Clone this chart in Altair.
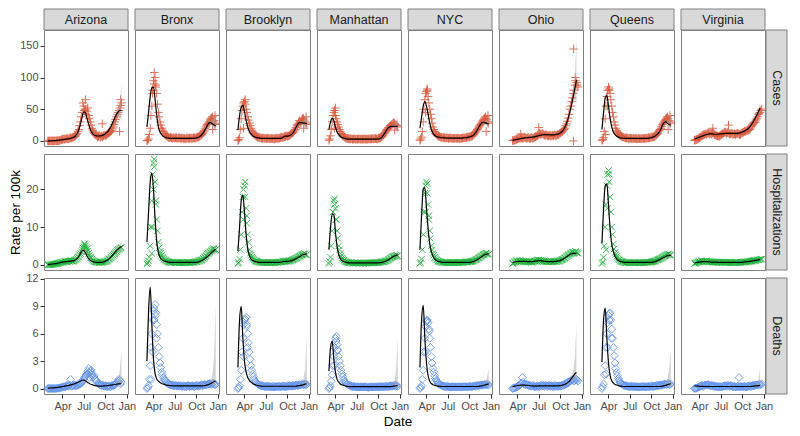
import altair as alt
import pandas as pd

LOCATIONS = ["Arizona", "Bronx", "Brooklyn", "Manhattan", "NYC", "Ohio", "Queens", "Virginia"]
METRICS = ["Cases", "Hospitalizations", "Deaths"]
WEEK0 = "2020-01-29"
FIRST_WEEK = {"Arizona": 0, "Bronx": 5, "Brooklyn": 5, "Manhattan": 5, "NYC": 5,
              "Ohio": 6, "Queens": 5, "Virginia": 6}

X_TICK_DATES = ["2020-04-01", "2020-07-01", "2020-10-01", "2021-01-01"]
X_RANGE = ["2020-01-13", "2021-01-06"]
Y_TICKS = {"Cases": [0, 50, 100, 150], "Hospitalizations": [0, 10, 20], "Deaths": [0, 3, 6, 9, 12]}
Y_RANGE = {"Cases": [-8, 175], "Hospitalizations": [-1.4, 29.4], "Deaths": [-0.6, 12.1]}

# ---------------- observed values, start of each week ----------------
CASES_PTS = {
    "Arizona": [0, 0, 0, 0, 0, 0.2, 0.3, 0.5, 1.5, 2.5, 3, 3.2, 3.5, 3.6, 5, 5.2, 5.8, 8, 12, 18, 30,
                45, 55, 50, 47, 40, 30, 20, 14, 10, 8, 7, 5.5, 8, 8, 9, 10, 12, 14, 16, 22, 30,
                38, 45, 52, 60],
    "Bronx": [0.5, 3, 20, 55, 95, 100, 75, 45, 30, 20, 15, 10, 8, 6, 5, 5, 5, 4, 5, 4, 5,
              4, 4, 4, 4, 4, 4, 4, 4, 5, 5, 6, 7, 9, 12, 16, 22, 26, 30, 35, 38, 32, 28],
    "Brooklyn": [0.5, 5, 35, 55, 62, 50, 38, 28, 20, 14, 10, 8, 6, 5, 5, 4, 4, 4, 4, 4, 3.5,
                 3.5, 3.5, 4, 4, 4, 5, 5, 6, 7, 8, 8, 10, 12, 14, 18, 24, 28, 30, 33, 36, 30, 26],
    "Manhattan": [1, 8, 30, 45, 40, 30, 22, 15, 10, 7, 5, 4, 3.5, 3, 3, 3, 2.5, 3, 3, 2.5, 3,
                  3, 2.5, 3, 3, 3, 3, 3.5, 3.5, 3.5, 4, 4, 6, 9, 12, 16, 20, 22, 25, 27, 28, 25, 22],
    "NYC": [1, 6, 30, 65, 78, 70, 50, 35, 22, 15, 10, 8, 7, 6, 5, 5, 4.5, 4.5, 4.5, 4, 4,
            4, 4, 4, 4, 4, 4.5, 5, 5, 6, 6, 7, 8, 10, 14, 18, 22, 26, 30, 34, 38, 33, 28],
    "Ohio": [0.5, 1, 2, 3, 4, 4, 5, 5, 5, 4.5, 5, 4, 4.5, 5, 6.5, 8, 10, 11, 11, 10, 9,
             9, 8, 8, 8.5, 8, 9, 9, 10, 12, 14, 17, 20, 27, 36, 50, 62, 75, 88, 92, 85],
    "Queens": [1, 5, 35, 70, 85, 75, 55, 38, 25, 16, 12, 9, 7, 6, 5, 4.5, 4, 4, 4, 4, 3.5,
               3.5, 3.5, 3.5, 3.5, 4, 4, 4, 4.5, 5, 5.5, 6, 7, 9, 12, 16, 20, 26, 30, 34, 38, 32, 28],
    "Virginia": [1, 2, 3, 5, 7, 9, 10, 11, 12, 11, 12, 13, 10, 9, 8, 7, 9, 11, 13, 14, 13,
                 12, 11, 12, 11, 10, 12, 11, 10, 13, 14, 15, 16, 17, 19, 24, 28, 30, 35, 42, 45, 50],
}
HOSP_PTS = {
    "Arizona": [0, 0, 0, 0.1, 0.2, 0.2, 0.3, 0.5, 0.6, 0.7, 0.8, 0.9, 0.8, 1.0, 1.0, 0.9, 1.1, 1.3, 1.7, 2.2, 3.0,
                4.0, 4.8, 5.0, 4.2, 3.0, 2.0, 1.5, 1.0, 0.8, 0.7, 0.6, 0.6, 0.6, 0.7, 0.8, 1.0, 1.3, 1.6, 2.0, 2.5, 3.0,
                3.5, 4.0, 4.3, 4.6],
    "Bronx": [0.2, 1, 5, 17, 27, 22, 12, 6, 3.5, 2.5, 1.8, 1.3, 1.0, 0.8, 0.7, 0.6, 0.6, 0.5, 0.6, 0.7, 0.5,
              0.6, 0.5, 0.6, 0.5, 0.6, 0.5, 0.6, 0.6, 0.7, 0.8, 0.9, 1.0, 1.2, 1.5, 1.9, 2.3, 2.8, 3.2, 3.6, 4.0, 4.2, 4.0],
    "Brooklyn": [0.3, 1.5, 8, 18, 21, 15, 8, 4, 2.5, 1.8, 1.3, 1.0, 0.8, 0.7, 0.6, 0.6, 0.5, 0.6, 0.5, 0.6, 0.5,
                 0.6, 0.5, 0.6, 0.6, 0.7, 0.7, 0.8, 0.9, 0.9, 0.9, 1.0, 1.0, 1.2, 1.4, 1.6, 1.8, 2.1, 2.3, 2.6, 2.8, 2.9, 2.7],
    "Manhattan": [0.3, 2, 9, 17, 15, 9, 5, 3, 1.8, 1.2, 0.9, 0.7, 0.6, 0.5, 0.5, 0.4, 0.5, 0.4, 0.5, 0.4, 0.5,
                  0.4, 0.5, 0.4, 0.5, 0.5, 0.4, 0.5, 0.5, 0.6, 0.5, 0.6, 0.7, 0.7, 0.9, 1.0, 1.2, 1.5, 1.8, 2.1, 2.3, 2.5, 2.4],
    "NYC": [0.3, 1.5, 8, 19, 22, 16, 9, 5, 3, 2, 1.4, 1.0, 0.8, 0.7, 0.6, 0.6, 0.5, 0.6, 0.5, 0.6, 0.6,
            0.5, 0.6, 0.5, 0.6, 0.6, 0.6, 0.7, 0.7, 0.7, 0.8, 0.8, 0.9, 1.1, 1.3, 1.5, 1.8, 2.1, 2.4, 2.7, 2.9, 3.0, 2.8],
    "Ohio": [0.3, 0.6, 0.9, 1.0, 1.0, 0.9, 1.0, 0.9, 0.8, 0.8, 0.7, 0.8, 0.7, 0.9, 1.0, 1.1, 1.2, 1.1, 1.0, 0.9, 0.9,
             0.8, 0.8, 0.8, 0.8, 0.8, 0.9, 0.9, 1.0, 1.1, 1.3, 1.5, 1.8, 2.2, 2.5, 2.8, 3.1, 3.3, 3.2, 3.4, 3.0],
    "Queens": [0.3, 2, 10, 21, 25, 18, 10, 5.5, 3.2, 2.2, 1.5, 1.1, 0.9, 0.7, 0.6, 0.6, 0.5, 0.6, 0.5, 0.5, 0.6,
               0.5, 0.5, 0.6, 0.5, 0.5, 0.6, 0.6, 0.6, 0.7, 0.7, 0.8, 0.9, 1.1, 1.3, 1.5, 1.7, 2.0, 2.2, 2.5, 2.7, 2.8, 2.6],
    "Virginia": [0.3, 0.5, 0.7, 0.8, 0.9, 0.9, 1.0, 0.9, 0.8, 0.9, 0.7, 0.8, 0.7, 0.6, 0.7, 0.6, 0.7, 0.6, 0.7, 0.6, 0.7,
                 0.6, 0.6, 0.5, 0.6, 0.6, 0.5, 0.6, 0.6, 0.7, 0.7, 0.8, 0.8, 0.9, 0.9, 1.0, 1.1, 1.1, 1.2, 1.3, 1.4, 1.5],
}
DEATH_PTS = {
    "Arizona": [0, 0, 0, 0, 0, 0, 0.02, 0.05, 0.1, 0.15, 0.2, 0.25, 0.3, 0.3, 1.0, 0.3, 0.3, 0.3, 0.35, 0.4, 0.5,
                0.7, 1.0, 1.3, 1.6, 2.2, 1.9, 1.5, 1.3, 1.0, 0.8, 0.5, 0.4, 0.3, 0.3, 0.3, 0.2, 0.2, 0.2, 0.3, 0.3, 0.4,
                0.6, 0.8, 0.9, 0.7],
    "Bronx": [0, 0.3, 2.5, 6, 8.5, 9.2, 7, 4.5, 2.8, 1.8, 1.2, 0.9, 0.7, 0.5, 0.45, 0.4, 0.35, 0.3, 0.3, 0.3, 0.25,
              0.3, 0.25, 0.2, 0.25, 0.3, 0.2, 0.25, 0.3, 0.2, 0.25, 0.3, 0.3, 0.35, 0.3, 0.4, 0.4, 0.45, 0.5, 0.5, 0.55, 0.5, 0.45],
    "Brooklyn": [0, 0.3, 2, 5.5, 7.5, 7.8, 6, 4, 2.5, 1.6, 1.0, 0.7, 0.5, 0.4, 0.3, 0.3, 0.25, 0.2, 0.25, 0.2, 0.2,
                 0.2, 0.15, 0.2, 0.25, 0.2, 0.2, 0.2, 0.25, 0.2, 0.2, 0.25, 0.3, 0.25, 0.3, 0.3, 0.35, 0.35, 0.4, 0.45, 0.4, 0.5, 0.45],
    "Manhattan": [0, 0.3, 1.5, 3.5, 5.5, 4.8, 3.5, 2.5, 1.6, 1.0, 0.7, 0.5, 0.4, 0.3, 0.25, 0.2, 0.2, 0.15, 0.2, 0.15, 0.2,
                  0.15, 0.2, 0.15, 0.1, 0.15, 0.2, 0.15, 0.2, 0.15, 0.2, 0.2, 0.15, 0.2, 0.2, 0.25, 0.2, 0.25, 0.3, 0.25, 0.3, 0.3, 0.25],
    "NYC": [0, 0.3, 2, 5.5, 7.3, 7.2, 5.5, 3.5, 2.2, 1.4, 0.9, 0.6, 0.45, 0.35, 0.3, 0.25, 0.2, 0.2, 0.2, 0.15, 0.2,
            0.15, 0.2, 0.15, 0.2, 0.15, 0.2, 0.2, 0.2, 0.15, 0.2, 0.2, 0.2, 0.25, 0.25, 0.3, 0.3, 0.35, 0.35, 0.4, 0.4, 0.45, 0.4],
    "Ohio": [0, 0.05, 0.1, 0.2, 0.3, 0.5, 1.2, 0.5, 0.4, 0.4, 0.3, 0.3, 0.3, 0.25, 0.2, 0.2, 0.25, 0.3, 0.3, 0.35, 0.3,
             0.3, 0.3, 0.25, 0.3, 0.25, 0.2, 0.3, 0.25, 0.3, 0.3, 0.35, 0.4, 0.5, 0.6, 0.8, 0.9, 1.0, 0.9, 1.0, 0.8],
    "Queens": [0, 0.5, 2.5, 6, 8, 8.3, 6.5, 4.5, 2.8, 1.8, 1.1, 0.7, 0.5, 0.4, 0.3, 0.3, 0.25, 0.2, 0.25, 0.2, 0.2,
               0.2, 0.2, 0.15, 0.2, 0.2, 0.15, 0.2, 0.2, 0.2, 0.25, 0.2, 0.25, 0.25, 0.3, 0.3, 0.35, 0.4, 0.4, 0.45, 0.5, 0.45, 0.5],
    "Virginia": [0, 0.05, 0.1, 0.2, 0.3, 0.3, 0.35, 0.4, 0.4, 0.35, 0.3, 0.3, 0.25, 0.2, 0.2, 0.15, 0.2, 0.2, 0.25, 0.3, 0.3,
                 0.3, 0.3, 0.25, 0.2, 0.2, 0.2, 0.2, 0.2, 0.2, 0.2, 0.2, 0.2, 0.25, 0.25, 0.3, 0.3, 0.35, 0.4, 0.4, 0.45, 0.5],
}

# ---------------- observed values, middle of each week ----------------
CASES_MID = {
    "Arizona": [0, 0, 0, 0, 0.1, 0.3, 0.4, 1, 2, 3, 2.5, 4, 3, 4.5, 4.5, 6, 7, 10, 15, 24, 38,
                60, 48, 42, 52, 35, 25, 17, 12, 9, 6, 9, 7, 6, 9, 8, 11, 13, 15, 19, 26, 34, 42, 48, 56],
    "Bronx": [1, 10, 40, 80, 90, 88, 58, 38, 25, 17, 12, 9, 7, 5, 6, 4, 5, 5, 4, 5, 4,
              5, 4, 3, 5, 4, 5, 4, 5, 4, 6, 6, 8, 10, 14, 19, 25, 28, 33, 36, 30, 26],
    "Brooklyn": [2, 18, 48, 60, 58, 45, 33, 24, 17, 12, 9, 7, 6, 5, 4, 5, 4, 3.5, 4.5, 3.5, 4,
                 4, 3, 4.5, 4, 4.5, 6, 5.5, 7, 8, 7, 9, 11, 13, 16, 21, 26, 32, 28, 35, 33, 28],
    "Manhattan": [3, 18, 40, 48, 35, 26, 18, 12, 8, 6, 4.5, 4, 3, 3.5, 2.5, 3.5, 3, 2.5, 3.5, 3, 2.5,
                  3.5, 3, 2.5, 3.5, 3, 4, 3, 4, 3, 4.5, 5, 7, 11, 14, 18, 21, 24, 26, 29, 26, 24],
    "NYC": [3, 15, 50, 75, 80, 60, 42, 28, 18, 12, 9, 7, 6, 5.5, 5.5, 4.5, 5, 4, 5, 4.5, 4,
            4.5, 4, 4.5, 4, 4.5, 5, 4.5, 5.5, 6.5, 6.5, 7.5, 9, 12, 16, 20, 24, 28, 32, 36, 35, 30],
    "Ohio": [0.8, 1.5, 2.5, 3.5, 5, 4.5, 4, 6, 4, 5.5, 3.5, 5.5, 4, 6, 7, 9, 12, 10, 12, 9, 10,
             8, 9, 7.5, 9, 9.5, 8, 10, 11, 13, 15, 18, 24, 31, 42, 55, 68, 80, 95, 88],
    "Queens": [2, 15, 55, 80, 82, 65, 45, 30, 20, 14, 10, 8, 6.5, 5.5, 4.5, 5, 3.5, 4.5, 3.5, 4, 4,
               3, 4, 3.5, 4, 3.5, 4.5, 4.5, 5, 5, 6.5, 6.5, 8, 10, 14, 18, 23, 28, 32, 36, 35, 30],
    "Virginia": [1.5, 2.5, 4, 6, 8, 9.5, 11, 10, 13, 12, 11, 12, 9.5, 8, 7.5, 8, 10, 12, 14, 12, 13,
                 11, 12, 10, 11, 11, 12, 10, 12, 13, 15, 16, 17, 18, 22, 26, 29, 33, 38, 44, 48],
}
HOSP_MID = {
    "Arizona": [0, 0, 0.1, 0.1, 0.2, 0.3, 0.4, 0.5, 0.7, 0.6, 0.9, 0.8, 1.0, 0.9, 1.1, 1.0, 1.2, 1.5, 2.0, 2.6, 3.5,
                4.5, 5.3, 4.6, 3.6, 2.5, 1.8, 1.2, 0.9, 0.7, 0.7, 0.5, 0.7, 0.6, 0.8, 0.9, 1.1, 1.5, 1.8, 2.3, 2.8, 3.2,
                3.8, 4.1, 4.5],
    "Bronx": [0.5, 2, 10, 24, 26, 17, 9, 4.5, 3, 2, 1.5, 1.1, 0.9, 0.7, 0.5, 0.7, 0.6, 0.5, 0.6, 0.5, 0.7,
              0.5, 0.6, 0.5, 0.7, 0.6, 0.5, 0.7, 0.6, 0.8, 0.8, 1.0, 1.1, 1.3, 1.7, 2.1, 2.5, 3.0, 3.4, 3.8, 4.3, 3.8],
    "Brooklyn": [0.6, 4, 14, 20, 18, 11, 6, 3, 2, 1.5, 1.1, 0.9, 0.7, 0.6, 0.5, 0.6, 0.6, 0.5, 0.6, 0.6, 0.5,
                 0.6, 0.5, 0.7, 0.6, 0.8, 0.7, 0.9, 0.8, 1.0, 0.9, 1.1, 1.1, 1.3, 1.5, 1.7, 2.0, 2.2, 2.5, 2.7, 3.0, 2.6],
    "Manhattan": [0.8, 5, 14, 16, 12, 7, 4, 2.3, 1.5, 1.0, 0.8, 0.6, 0.5, 0.6, 0.4, 0.5, 0.4, 0.5, 0.4, 0.5, 0.4,
                  0.5, 0.4, 0.5, 0.4, 0.5, 0.6, 0.5, 0.6, 0.5, 0.6, 0.7, 0.8, 0.8, 1.0, 1.1, 1.4, 1.7, 2.0, 2.2, 2.4, 2.2],
    "NYC": [0.6, 4, 14, 21, 19, 12, 7, 4, 2.5, 1.7, 1.2, 0.9, 0.8, 0.6, 0.5, 0.6, 0.6, 0.5, 0.6, 0.5, 0.6,
            0.6, 0.5, 0.6, 0.6, 0.7, 0.6, 0.7, 0.8, 0.7, 0.8, 0.9, 1.0, 1.2, 1.4, 1.7, 2.0, 2.3, 2.6, 2.8, 3.1, 2.7],
    "Ohio": [0.4, 0.8, 1.1, 0.8, 1.1, 0.8, 0.9, 0.7, 1.0, 0.7, 0.9, 0.6, 0.8, 1.0, 1.1, 1.3, 1.0, 1.2, 0.8, 1.0, 0.8,
             0.9, 0.7, 0.9, 0.7, 0.9, 0.8, 1.0, 0.9, 1.2, 1.4, 1.7, 2.0, 2.4, 2.7, 3.0, 3.3, 3.0, 3.5, 3.2],
    "Queens": [0.7, 5, 16, 24, 22, 14, 8, 4.2, 2.7, 1.8, 1.3, 1.0, 0.8, 0.6, 0.5, 0.6, 0.6, 0.5, 0.6, 0.5, 0.5,
               0.6, 0.5, 0.5, 0.6, 0.6, 0.5, 0.7, 0.7, 0.6, 0.8, 0.9, 1.0, 1.2, 1.4, 1.6, 1.8, 2.1, 2.4, 2.6, 2.9, 2.5],
    "Virginia": [0.4, 0.6, 0.8, 0.7, 1.0, 0.8, 0.9, 1.0, 0.7, 0.8, 0.8, 0.6, 0.8, 0.7, 0.6, 0.7, 0.5, 0.7, 0.5, 0.7, 0.6,
                 0.7, 0.5, 0.6, 0.5, 0.7, 0.6, 0.5, 0.7, 0.6, 0.8, 0.7, 0.9, 0.8, 1.0, 1.0, 1.2, 1.1, 1.3, 1.3, 1.5],
}
DEATH_MID = {
    "Arizona": [0, 0, 0, 0, 0, 0.02, 0.05, 0.08, 0.12, 0.2, 0.15, 0.3, 0.25, 0.4, 0.25, 0.35, 0.4, 0.3, 0.45, 0.5, 0.6,
                0.9, 1.2, 1.5, 1.9, 1.7, 1.6, 1.2, 1.4, 0.9, 0.6, 0.5, 0.35, 0.4, 0.25, 0.3, 0.25, 0.3, 0.2, 0.35, 0.4, 0.5,
                0.7, 1.0, 0.5],
    "Bronx": [0.1, 1, 4.5, 7.5, 8.8, 8, 6, 3.5, 2.3, 1.5, 1.0, 0.8, 0.6, 0.5, 0.4, 0.35, 0.3, 0.35, 0.25, 0.3, 0.3,
              0.2, 0.3, 0.25, 0.2, 0.35, 0.25, 0.3, 0.25, 0.3, 0.35, 0.25, 0.3, 0.4, 0.35, 0.45, 0.4, 0.5, 0.55, 0.45, 0.6, 0.4],
    "Brooklyn": [0.1, 1, 4, 7, 7.6, 7, 5, 3.2, 2, 1.3, 0.8, 0.6, 0.45, 0.35, 0.3, 0.25, 0.2, 0.25, 0.2, 0.25, 0.15,
                 0.25, 0.2, 0.2, 0.2, 0.25, 0.2, 0.3, 0.2, 0.25, 0.3, 0.3, 0.25, 0.35, 0.3, 0.4, 0.3, 0.45, 0.4, 0.5, 0.45, 0.4],
    "Manhattan": [0.1, 0.8, 2.5, 4.5, 5.2, 4.2, 3, 2, 1.3, 0.8, 0.6, 0.45, 0.35, 0.25, 0.2, 0.25, 0.15, 0.2, 0.15, 0.2, 0.15,
                  0.2, 0.15, 0.2, 0.15, 0.2, 0.15, 0.2, 0.15, 0.2, 0.15, 0.25, 0.2, 0.2, 0.25, 0.2, 0.25, 0.3, 0.25, 0.3, 0.35, 0.3],
    "NYC": [0.1, 1, 4, 6.8, 7.4, 6.5, 4.5, 2.8, 1.8, 1.1, 0.75, 0.5, 0.4, 0.3, 0.25, 0.2, 0.25, 0.2, 0.15, 0.2, 0.2,
            0.2, 0.15, 0.2, 0.2, 0.15, 0.2, 0.2, 0.2, 0.2, 0.25, 0.2, 0.25, 0.3, 0.3, 0.35, 0.35, 0.4, 0.4, 0.45, 0.45, 0.4],
    "Ohio": [0.02, 0.1, 0.15, 0.3, 0.4, 0.6, 0.7, 0.45, 0.5, 0.35, 0.35, 0.25, 0.35, 0.2, 0.25, 0.3, 0.2, 0.35, 0.3, 0.25, 0.35,
             0.25, 0.35, 0.3, 0.2, 0.35, 0.3, 0.25, 0.3, 0.25, 0.4, 0.45, 0.55, 0.7, 0.75, 0.85, 1.0, 0.8, 1.1, 0.9],
    "Queens": [0.2, 1.5, 4.5, 7.2, 8.2, 7.5, 5.5, 3.6, 2.2, 1.4, 0.9, 0.6, 0.45, 0.35, 0.3, 0.25, 0.2, 0.25, 0.2, 0.25, 0.2,
               0.2, 0.15, 0.2, 0.2, 0.25, 0.2, 0.2, 0.25, 0.2, 0.3, 0.25, 0.3, 0.35, 0.35, 0.4, 0.35, 0.45, 0.5, 0.4, 0.55, 0.45],
    "Virginia": [0.02, 0.08, 0.15, 0.25, 0.35, 0.25, 0.4, 0.35, 0.45, 0.3, 0.35, 0.25, 0.3, 0.2, 0.25, 0.2, 0.15, 0.25, 0.3, 0.25, 0.35,
                 0.25, 0.3, 0.2, 0.25, 0.15, 0.25, 0.2, 0.25, 0.2, 0.25, 0.15, 0.25, 0.3, 0.2, 0.35, 0.3, 0.4, 0.35, 0.45, 0.4],
}

# isolated observations (location, metric, date, value)
EXTRA_PTS = [
    ("Arizona", "Cases", "2020-07-08", 65), ("Arizona", "Cases", "2020-09-18", 27),
    ("Arizona", "Cases", "2020-12-01", 15), ("Arizona", "Cases", "2020-12-05", 65),
    ("Bronx", "Cases", "2020-04-04", 108), ("Bronx", "Cases", "2020-03-28", 75), ("Bronx", "Cases", "2020-04-11", 85),
    ("Bronx", "Cases", "2020-12-10", 18), ("Bronx", "Cases", "2020-12-20", 40),
    ("Brooklyn", "Cases", "2020-03-28", 20), ("Brooklyn", "Cases", "2020-04-04", 65),
    ("Brooklyn", "Cases", "2020-12-10", 20), ("Brooklyn", "Cases", "2020-12-20", 38),
    ("Manhattan", "Cases", "2020-04-01", 52), ("Manhattan", "Cases", "2020-03-28", 20), ("Manhattan", "Cases", "2020-12-10", 17),
    ("NYC", "Cases", "2020-04-04", 82), ("NYC", "Cases", "2020-03-28", 45),
    ("NYC", "Cases", "2020-12-12", 15), ("NYC", "Cases", "2020-12-20", 40),
    ("Ohio", "Cases", "2020-11-27", 145), ("Ohio", "Cases", "2020-11-26", 0), ("Ohio", "Cases", "2020-12-04", 100),
    ("Ohio", "Cases", "2020-07-01", 21), ("Ohio", "Cases", "2020-04-15", 11),
    ("Queens", "Cases", "2020-04-04", 80), ("Queens", "Cases", "2020-03-28", 55), ("Queens", "Cases", "2020-03-20", 10),
    ("Queens", "Cases", "2020-12-12", 18), ("Queens", "Cases", "2020-12-20", 40),
    ("Virginia", "Cases", "2020-05-28", 20), ("Virginia", "Cases", "2020-08-03", 25),
    ("Arizona", "Hospitalizations", "2020-07-05", 5.6), ("Arizona", "Hospitalizations", "2020-07-12", 3.5),
    ("Bronx", "Hospitalizations", "2020-03-28", 10), ("Bronx", "Hospitalizations", "2020-04-04", 28),
    ("Bronx", "Hospitalizations", "2020-04-01", 20), ("Bronx", "Hospitalizations", "2020-04-11", 16),
    ("Bronx", "Hospitalizations", "2020-03-25", 3),
    ("Brooklyn", "Hospitalizations", "2020-04-04", 22), ("Brooklyn", "Hospitalizations", "2020-03-28", 12),
    ("Brooklyn", "Hospitalizations", "2020-04-11", 13),
    ("Manhattan", "Hospitalizations", "2020-03-28", 17.5), ("Manhattan", "Hospitalizations", "2020-04-04", 12),
    ("NYC", "Hospitalizations", "2020-03-28", 14), ("NYC", "Hospitalizations", "2020-04-04", 21.5),
    ("NYC", "Hospitalizations", "2020-04-11", 13),
    ("Queens", "Hospitalizations", "2020-03-28", 15), ("Queens", "Hospitalizations", "2020-04-04", 24),
    ("Queens", "Hospitalizations", "2020-03-22", 4),
    ("Arizona", "Deaths", "2020-07-26", 1.2), ("Arizona", "Deaths", "2020-08-02", 2.0), ("Arizona", "Deaths", "2020-07-20", 1.6),
    ("Bronx", "Deaths", "2020-03-28", 4), ("Bronx", "Deaths", "2020-04-04", 7.5), ("Bronx", "Deaths", "2020-04-11", 8.3),
    ("Bronx", "Deaths", "2020-04-14", 5.5), ("Bronx", "Deaths", "2020-03-22", 1.0),
    ("Brooklyn", "Deaths", "2020-03-28", 3.5), ("Brooklyn", "Deaths", "2020-04-11", 6.8), ("Brooklyn", "Deaths", "2020-04-15", 4.5),
    ("Manhattan", "Deaths", "2020-04-04", 5.7), ("Manhattan", "Deaths", "2020-04-08", 4.2), ("Manhattan", "Deaths", "2020-03-28", 2.5),
    ("NYC", "Deaths", "2020-04-04", 7.5), ("NYC", "Deaths", "2020-03-28", 4), ("NYC", "Deaths", "2020-04-14", 6.3),
    ("Queens", "Deaths", "2020-03-22", 1.6), ("Queens", "Deaths", "2020-03-28", 4.5), ("Queens", "Deaths", "2020-04-04", 7.5),
    ("Queens", "Deaths", "2020-04-14", 5.5),
    ("Virginia", "Deaths", "2020-09-17", 1.2),
]

# ---------------- weekly model fit (black line) ----------------
CASES_FIT = {
    "Arizona": [0, 0, 0.2, 0.3, 0.5, 0.7, 1, 1.2, 1.5, 2, 2.3, 2.7, 3, 3.5, 4, 5, 6, 8, 12, 18, 27,
                38, 46, 45, 36, 26, 18, 13, 10, 8.5, 8, 7.8, 8, 8.5, 9.5, 11, 13, 16, 20, 25, 31, 37,
                42, 46, 48, 48],
    "Bronx": [22, 45, 70, 84, 85, 65, 40, 22, 14, 10, 7, 6, 5, 4.5, 4, 4, 4, 4, 4, 4, 4,
              4, 4, 4, 4, 4, 4, 4, 4, 4.2, 4.6, 5.5, 6.5, 8.5, 11.5, 15, 20, 25, 28.5, 29, 27, 25, 24],
    "Brooklyn": [17, 40, 53, 56, 46, 33, 22, 15, 11, 8, 6.5, 5.5, 5, 4.5, 4, 4, 4, 4, 4, 4, 4,
                 4, 4, 4, 4, 4, 4, 5, 6.5, 7.5, 7.5, 8, 9, 11, 14, 19, 24, 28, 29, 29, 28, 28, 27],
    "Manhattan": [18, 30, 36, 32, 22, 14, 10, 7, 5.5, 4.5, 4, 3, 3, 3, 3, 3, 3, 3, 3, 3, 3,
                  3, 3, 3, 3, 3, 3, 3, 3, 3, 3, 3.5, 5, 8, 12, 16, 20, 22, 23, 23, 23, 23, 23],
    "NYC": [20, 38, 55, 62, 55, 42, 28, 18, 12, 9, 7, 6, 5.5, 5, 5, 4.8, 4.6, 4.5, 4.5, 4.5, 4.5,
            4.5, 4.5, 4.5, 4.5, 4.5, 4.5, 5, 5, 5.5, 6, 7, 8, 10, 13, 17, 22, 26, 29, 29.5, 28.5, 27.5, 27],
    "Ohio": [1, 1.5, 2, 2.5, 3, 3.5, 4, 4.5, 5, 5, 5.5, 5.5, 6, 6.5, 7, 7.5, 8.5, 9, 9.5, 10, 10,
             10, 10, 9.5, 9.5, 9.5, 10, 10.5, 11, 12.5, 14.5, 17.5, 22, 28, 36, 46, 57, 69, 82, 96],
    "Queens": [18, 45, 68, 72, 55, 36, 22, 14, 10, 7.5, 6, 5, 4.5, 4, 4, 4, 4, 4, 4, 4, 4,
               4, 4, 4, 4, 4, 4, 4, 4, 4.5, 5, 6, 7, 9, 11, 14, 19, 25, 29, 30, 28, 26, 25],
    "Virginia": [3, 4, 5, 6, 7, 8, 9, 10, 10.5, 11, 11, 11, 10.5, 10.5, 10.5, 11, 11, 11.5, 11.5, 12, 12,
                 12, 12, 12, 12, 12, 12, 12.5, 13, 14, 15, 16.5, 18, 20, 23, 27, 31, 36, 41, 46, 52],
}
HOSP_FIT = {
    "Arizona": [0.1, 0.1, 0.15, 0.2, 0.25, 0.3, 0.4, 0.5, 0.6, 0.7, 0.75, 0.8, 0.85, 0.9, 0.95, 1.0, 1.1, 1.3, 1.6, 2.2, 3.0,
                3.7, 3.8, 3.2, 2.3, 1.6, 1.2, 0.9, 0.75, 0.65, 0.6, 0.6, 0.6, 0.65, 0.75, 0.9, 1.1, 1.4, 1.8, 2.3, 2.8, 3.3,
                3.8, 4.2, 4.6, 4.8],
    "Bronx": [6, 14, 22, 24.3, 20, 12, 6, 3.2, 2, 1.4, 1.1, 0.9, 0.8, 0.7, 0.6, 0.6, 0.6, 0.6, 0.6, 0.6, 0.6,
              0.6, 0.6, 0.6, 0.6, 0.6, 0.6, 0.6, 0.6, 0.6, 0.65, 0.7, 0.8, 1.0, 1.2, 1.5, 1.8, 2.2, 2.6, 3.0, 3.4, 3.8, 4.1],
    "Brooklyn": [3.6, 10, 17, 18.5, 14, 8, 4.2, 2.4, 1.5, 1.1, 0.9, 0.8, 0.7, 0.6, 0.6, 0.6, 0.6, 0.6, 0.6, 0.6, 0.6,
                 0.6, 0.6, 0.6, 0.6, 0.6, 0.65, 0.75, 0.85, 0.9, 0.9, 0.95, 1.0, 1.1, 1.3, 1.5, 1.7, 2.0, 2.2, 2.5, 2.7, 2.8, 2.9],
    "Manhattan": [4, 10, 13.5, 13.3, 8.5, 4.8, 2.6, 1.6, 1.1, 0.8, 0.7, 0.6, 0.5, 0.5, 0.5, 0.5, 0.5, 0.5, 0.5, 0.5, 0.5,
                  0.5, 0.5, 0.5, 0.5, 0.5, 0.5, 0.5, 0.5, 0.5, 0.5, 0.55, 0.6, 0.7, 0.85, 1.0, 1.2, 1.5, 1.8, 2.1, 2.3, 2.5, 2.6],
    "NYC": [4, 13, 20, 20.5, 15, 9.5, 5.5, 3.5, 2.2, 1.5, 1.1, 0.9, 0.8, 0.7, 0.6, 0.6, 0.6, 0.6, 0.6, 0.6, 0.6,
            0.6, 0.6, 0.6, 0.6, 0.6, 0.6, 0.6, 0.6, 0.6, 0.65, 0.7, 0.8, 0.9, 1.1, 1.3, 1.6, 1.9, 2.2, 2.5, 2.7, 2.8, 2.9],
    "Ohio": [0.6, 0.7, 0.8, 0.85, 0.9, 0.9, 0.9, 0.9, 0.9, 0.85, 0.85, 0.85, 0.85, 0.9, 0.95, 1.0, 1.05, 1.05, 1.0, 0.95, 0.9,
             0.85, 0.85, 0.85, 0.85, 0.85, 0.9, 0.95, 1.0, 1.1, 1.3, 1.5, 1.8, 2.1, 2.4, 2.7, 2.9, 3.0, 3.0, 3.0],
    "Queens": [5.7, 15, 21, 21.5, 16, 9.5, 5.5, 3.5, 2.2, 1.5, 1.1, 0.9, 0.8, 0.7, 0.6, 0.6, 0.6, 0.6, 0.6, 0.6, 0.6,
               0.6, 0.6, 0.6, 0.6, 0.6, 0.6, 0.6, 0.6, 0.6, 0.65, 0.7, 0.8, 0.9, 1.1, 1.3, 1.5, 1.8, 2.0, 2.2, 2.4, 2.5, 2.5],
    "Virginia": [0.5, 0.6, 0.65, 0.7, 0.75, 0.8, 0.8, 0.8, 0.8, 0.75, 0.7, 0.7, 0.7, 0.7, 0.65, 0.65, 0.65, 0.65, 0.65, 0.65, 0.6,
                 0.6, 0.6, 0.6, 0.6, 0.6, 0.6, 0.6, 0.65, 0.65, 0.7, 0.75, 0.8, 0.85, 0.9, 1.0, 1.05, 1.15, 1.2, 1.3, 1.4],
}
DEATH_FIT = {
    "Arizona": [0.05, 0.05, 0.06, 0.07, 0.08, 0.1, 0.12, 0.15, 0.18, 0.21, 0.24, 0.28, 0.31, 0.35, 0.4, 0.44, 0.5, 0.56, 0.63, 0.72, 0.82,
                0.9, 0.93, 0.85, 0.72, 0.6, 0.5, 0.42, 0.36, 0.32, 0.29, 0.27, 0.27, 0.27, 0.28, 0.29, 0.31, 0.33, 0.36, 0.38, 0.41, 0.44,
                0.47, 0.5, 0.52, 0.55],
    "Bronx": [3, 8.5, 11.1, 7, 3.2, 1.6, 1.05, 0.8, 0.65, 0.55, 0.48, 0.42, 0.38, 0.35, 0.33, 0.31, 0.3, 0.28, 0.28, 0.28, 0.28,
              0.28, 0.28, 0.28, 0.28, 0.28, 0.28, 0.28, 0.28, 0.28, 0.28, 0.28, 0.28, 0.28, 0.3, 0.32, 0.35, 0.4, 0.47, 0.55, 0.65, 0.75, 0.82],
    "Brooklyn": [2.3, 7.5, 9, 5.5, 3, 1.8, 1.2, 0.9, 0.7, 0.55, 0.45, 0.38, 0.33, 0.3, 0.27, 0.25, 0.25, 0.25, 0.25, 0.25, 0.25,
                 0.25, 0.25, 0.25, 0.25, 0.25, 0.25, 0.25, 0.25, 0.25, 0.25, 0.25, 0.25, 0.25, 0.25, 0.25, 0.27, 0.3, 0.33, 0.37, 0.42, 0.48, 0.52],
    "Manhattan": [1.9, 4.5, 5.2, 3.2, 1.8, 1.0, 0.7, 0.5, 0.4, 0.33, 0.28, 0.25, 0.22, 0.2, 0.2, 0.2, 0.2, 0.2, 0.2, 0.2, 0.2,
                  0.2, 0.2, 0.2, 0.2, 0.2, 0.2, 0.2, 0.2, 0.2, 0.2, 0.2, 0.2, 0.2, 0.2, 0.2, 0.2, 0.2, 0.22, 0.24, 0.27, 0.3, 0.33],
    "NYC": [2.3, 7.5, 9.1, 5.5, 2.8, 1.4, 0.8, 0.55, 0.42, 0.35, 0.3, 0.27, 0.25, 0.22, 0.22, 0.22, 0.22, 0.22, 0.22, 0.22, 0.22,
            0.22, 0.22, 0.22, 0.22, 0.22, 0.22, 0.22, 0.22, 0.22, 0.22, 0.22, 0.22, 0.22, 0.22, 0.22, 0.24, 0.27, 0.3, 0.35, 0.4, 0.46, 0.5],
    "Ohio": [0.2, 0.25, 0.3, 0.33, 0.35, 0.37, 0.38, 0.38, 0.37, 0.35, 0.33, 0.3, 0.28, 0.27, 0.27, 0.27, 0.28, 0.3, 0.3, 0.3, 0.3,
             0.3, 0.3, 0.29, 0.28, 0.28, 0.28, 0.29, 0.3, 0.32, 0.35, 0.4, 0.47, 0.56, 0.7, 0.88, 1.1, 1.35, 1.6, 1.75],
    "Queens": [2.9, 7.5, 8.8, 5.5, 2.8, 1.4, 0.85, 0.6, 0.45, 0.38, 0.32, 0.28, 0.25, 0.22, 0.22, 0.22, 0.22, 0.22, 0.22, 0.22, 0.22,
               0.22, 0.22, 0.22, 0.22, 0.22, 0.22, 0.22, 0.22, 0.22, 0.22, 0.22, 0.22, 0.22, 0.22, 0.22, 0.24, 0.27, 0.31, 0.36, 0.42, 0.48, 0.55],
    "Virginia": [0.3, 0.28, 0.26, 0.25, 0.24, 0.23, 0.22, 0.22, 0.22, 0.22, 0.22, 0.22, 0.22, 0.22, 0.22, 0.22, 0.22, 0.22, 0.22, 0.22, 0.22,
                 0.22, 0.22, 0.22, 0.22, 0.22, 0.22, 0.22, 0.22, 0.22, 0.22, 0.22, 0.22, 0.22, 0.22, 0.24, 0.26, 0.28, 0.3, 0.32, 0.34],
}

# confidence band (grey) for the last four fitted weeks: upper and lower bounds
RIB_HI = {
    "Cases": {"Arizona": [45, 52, 62, 90], "Bronx": [32, 33, 36, 42], "Brooklyn": [31, 32, 36, 42],
              "Manhattan": [25, 27, 31, 38], "NYC": [31, 31, 33, 37], "Ohio": [60, 76, 100, 165],
              "Queens": [32, 32, 34, 40], "Virginia": [37, 43, 50, 60]},
    "Hospitalizations": {"Arizona": [4.0, 4.6, 5.3, 6.5], "Bronx": [3.2, 3.8, 4.5, 5.8], "Brooklyn": [2.6, 3.0, 3.4, 4.3],
                         "Manhattan": [2.2, 2.6, 3.0, 4.0], "NYC": [2.6, 2.9, 3.2, 3.8], "Ohio": [3.0, 3.2, 3.4, 3.9],
                         "Queens": [2.3, 2.6, 3.0, 3.6], "Virginia": [1.2, 1.3, 1.5, 1.8]},
    "Deaths": {"Arizona": [0.6, 1.0, 2.0, 4.2], "Bronx": [0.8, 1.5, 3.5, 9.2], "Brooklyn": [0.5, 1.0, 2.2, 5.7],
               "Manhattan": [0.35, 0.8, 2.0, 5.5], "NYC": [0.45, 0.7, 1.2, 2.2], "Ohio": [1.3, 1.9, 3.2, 7.1],
               "Queens": [0.5, 0.9, 2.0, 4.3], "Virginia": [0.35, 0.5, 0.9, 2.2]},
}
RIB_LO = {
    "Cases": {"Arizona": [39, 41, 38, 30], "Bronx": [26, 22, 18, 12], "Brooklyn": [27, 24, 21, 17],
              "Manhattan": [21, 19, 16, 12], "NYC": [28, 26, 23, 19], "Ohio": [54, 62, 66, 60],
              "Queens": [28, 24, 20, 14], "Virginia": [35, 39, 42, 45]},
    "Hospitalizations": {"Arizona": [3.6, 3.8, 3.9, 3.4], "Bronx": [2.8, 3.0, 3.1, 2.8], "Brooklyn": [2.4, 2.4, 2.3, 1.9],
                         "Manhattan": [2.0, 2.0, 2.0, 1.6], "NYC": [2.4, 2.5, 2.4, 2.1], "Ohio": [2.8, 2.8, 2.6, 2.2],
                         "Queens": [2.1, 2.2, 2.0, 1.6], "Virginia": [1.1, 1.1, 1.1, 1.0]},
    "Deaths": {"Arizona": [0.4, 0.35, 0.25, 0.1], "Bronx": [0.45, 0.4, 0.3, 0.1], "Brooklyn": [0.3, 0.25, 0.2, 0.05],
               "Manhattan": [0.18, 0.15, 0.1, 0.03], "NYC": [0.3, 0.3, 0.25, 0.15], "Ohio": [0.95, 1.0, 0.9, 0.5],
               "Queens": [0.3, 0.28, 0.2, 0.08], "Virginia": [0.22, 0.2, 0.16, 0.08]},
}

PTS = {"Cases": CASES_PTS, "Hospitalizations": HOSP_PTS, "Deaths": DEATH_PTS}
MID = {"Cases": CASES_MID, "Hospitalizations": HOSP_MID, "Deaths": DEATH_MID}
FIT = {"Cases": CASES_FIT, "Hospitalizations": HOSP_FIT, "Deaths": DEATH_FIT}

STYLE = {
    "Cases": {"color": "#D9583C", "shape": "M-1,0L1,0M0,-1L0,1", "size": 72},
    "Hospitalizations": {"color": "#1DB33A", "shape": "M-1,-1L1,1M-1,1L1,-1", "size": 40},
    "Deaths": {"color": "#6495ED", "shape": "diamond", "size": 60},
}

W, H = 84, 116
STRIP = 21
FONT = "Liberation Sans"
BORDER = "#808080"


def week_date(k, shift=0):
    return (pd.Timestamp(WEEK0) + pd.Timedelta(days=7 * k + shift)).strftime("%Y-%m-%d")


def ms(d):
    return int(pd.Timestamp(d, tz="UTC").timestamp() * 1000)


X_DOMAIN = [ms(d) for d in X_RANGE]
X_TICKS = [ms(d) for d in X_TICK_DATES]


def panel(m, loc, r, c):
    k0 = FIRST_WEEK[loc]
    pv, mv = PTS[m][loc], MID[m][loc]
    pts = pd.concat([
        pd.DataFrame({"date": [week_date(k0 + i) for i in range(len(pv))], "value": pv}),
        pd.DataFrame({"date": [week_date(k0 + i, 3) for i in range(len(mv))], "value": mv}),
        pd.DataFrame([(d, v) for (l, mm, d, v) in EXTRA_PTS if l == loc and mm == m] or [("2020-06-01", None)],
                     columns=["date", "value"]).dropna(),
    ], ignore_index=True)
    fv = FIT[m][loc]
    fit = pd.DataFrame({"date": [week_date(k0 + i) for i in range(len(fv))], "value": fv})
    hi, lo = RIB_HI[m][loc], RIB_LO[m][loc]
    n, t = len(fv), len(hi)
    rib = pd.DataFrame({
        "date": [week_date(k0 + i) for i in range(n - t - 1, n)],
        "value": [fv[n - t - 1]] + lo,
        "value2": [fv[n - t - 1]] + hi,
    })

    if r == 2:
        xaxis = alt.Axis(values=X_TICKS, format="%b", title=None, grid=False, domain=False,
                         tickSize=4, tickColor="#333333", labelColor="#4D4D4D", labelFontSize=11,
                         labelPadding=2, labelFlush=False, labelOverlap=False, labelFont=FONT)
    else:
        xaxis = None
    if c == 0:
        yaxis = alt.Axis(values=Y_TICKS[m], grid=False, domain=False, tickSize=4, tickColor="#333333",
                         labelColor="#4D4D4D", labelFontSize=11, labelPadding=2, labelFont=FONT,
                         title=("Rate per 100k" if r == 1 else None), titleFontSize=13.5,
                         titleFontWeight="normal", titleColor="#000000", titlePadding=3, titleFont=FONT)
    else:
        yaxis = None

    x = alt.X("date:T", scale=alt.Scale(type="utc", domain=X_DOMAIN), axis=xaxis)
    y = alt.Y("value:Q", scale=alt.Scale(domain=Y_RANGE[m], nice=False, zero=False), axis=yaxis)

    st = STYLE[m]
    layers = [
        alt.Chart(pts).mark_point(shape=st["shape"], size=st["size"], filled=False,
                                  strokeWidth=1.0, color=st["color"], opacity=0.85).encode(x=x, y=y),
        alt.Chart(rib).mark_area(color="#A6A6A6", opacity=0.5).encode(x=x, y=y, y2=alt.Y2("value2:Q")),
        alt.Chart(fit).mark_line(color="black", strokeWidth=1.2, interpolate="monotone").encode(x=x, y=y),
    ]
    lab = pd.DataFrame({"label": [loc], "metric": [m]})
    if r == 0:
        layers.append(alt.Chart(lab).mark_rect(fill="#D9D9D9", stroke=BORDER, strokeWidth=1).encode(
            x=alt.value(0), x2=alt.value(W), y=alt.value(-STRIP), y2=alt.value(0)))
        layers.append(alt.Chart(lab).mark_text(fontSize=12.5, color="#1A1A1A", font=FONT,
                                               align="center", baseline="middle").encode(
            x=alt.value(W / 2), y=alt.value(-STRIP / 2), text="label:N"))
    if c == len(LOCATIONS) - 1:
        layers.append(alt.Chart(lab).mark_rect(fill="#D9D9D9", stroke=BORDER, strokeWidth=1).encode(
            x=alt.value(W + 1), x2=alt.value(W + 1 + STRIP), y=alt.value(0), y2=alt.value(H)))
        layers.append(alt.Chart(lab).mark_text(fontSize=12.5, color="#1A1A1A", font=FONT, angle=90,
                                               align="center", baseline="middle").encode(
            x=alt.value(W + 1 + STRIP / 2), y=alt.value(H / 2), text="metric:N"))
    return alt.layer(*layers).properties(width=W, height=H)


panels = [panel(m, loc, r, c) for r, m in enumerate(METRICS) for c, loc in enumerate(LOCATIONS)]

chart = alt.concat(
    *panels, columns=8, spacing={"row": 8, "column": 7}, bounds="flush",
    title=alt.TitleParams("Date", orient="bottom", anchor="middle", fontSize=13.5,
                          fontWeight="normal", color="#000000", font=FONT, offset=3),
).properties(
    padding={"left": 0, "right": 0, "top": 0, "bottom": 0}, background="white"
).configure(font=FONT).configure_view(stroke=BORDER, strokeWidth=1)

chart.save("out.html", embed_options={"renderer": "svg", "actions": False})
